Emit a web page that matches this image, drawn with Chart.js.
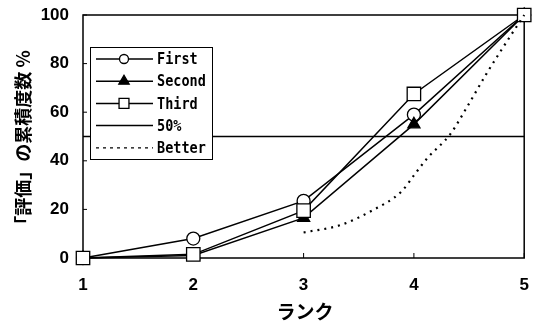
<!DOCTYPE html>
<html>
<head>
<meta charset="utf-8">
<script src="https://cdn.jsdelivr.net/npm/chart.js@4.4.0/dist/chart.umd.min.js"></script>
<style>
  html, body { margin: 0; padding: 0; background: #fff; }
  #wrap { width: 535px; height: 325px; }
</style>
</head>
<body>
<div id="wrap"><canvas id="myChart" width="535" height="325"></canvas></div>
<script>
// data
const ranks = [1, 2, 3, 4, 5];
const firstValues = [0, 8, 23.5, 59, 100];
const secondValues = [0, 1, 16.5, 55, 100];
const thirdValues = [0, 1.5, 19.5, 67.5, 100];
const halfValues = [50, 50];
const halfX = [1, 5];
const betterX = [3, 3.33, 3.62, 3.89, 4, 4.12, 4.33, 4.48, 4.66, 4.87, 5];
const betterY = [10.5, 13.5, 19.5, 27.5, 34, 41, 51, 62, 76, 91, 100];
const yTicks = [0, 20, 40, 60, 80, 100];

const yTitle = '「評価」の累積度数 %';
const xTitle = 'ランク';

function pts(xs, ys) {
  return xs.map((x, i) => ({x: x, y: ys[i]}));
}

const legendItems = [
  {label: 'First', style: 'circle', dash: []},
  {label: 'Second', style: 'triangle', dash: []},
  {label: 'Third', style: 'rect', dash: []},
  {label: '50%', style: null, dash: []},
  {label: 'Better', style: null, dash: [3, 4]}
];

// frame, inward ticks, titles and the legend box
const decor = {
  id: 'decor',
  beforeDatasetsDraw(chart) {
    const ctx = chart.ctx;
    const a = chart.chartArea;
    const xs = chart.scales.x, ys = chart.scales.y;
    ctx.save();
    ctx.strokeStyle = '#000';
    ctx.lineWidth = 1.5;
    ctx.strokeRect(a.left, a.top, a.right - a.left, a.bottom - a.top);
    ctx.lineWidth = 1;
    ranks.forEach(r => {
      const px = xs.getPixelForValue(r);
      ctx.beginPath();
      ctx.moveTo(px, a.bottom);
      ctx.lineTo(px, a.bottom - 5);
      ctx.stroke();
    });
    yTicks.forEach(v => {
      const py = ys.getPixelForValue(v);
      ctx.beginPath();
      ctx.moveTo(a.left, py);
      ctx.lineTo(a.left + 4, py);
      ctx.stroke();
    });
    ctx.fillStyle = '#000';
    ctx.font = 'bold 19px "Noto Sans CJK JP"';
    ctx.textAlign = 'center';
    ctx.textBaseline = 'middle';
    ctx.fillText(xTitle, 305, 312);
    ctx.translate(23, 142);
    ctx.rotate(-Math.PI / 2);
    ctx.font = 'bold 18px "Noto Sans CJK JP"';
    ctx.fillText(yTitle, 0, 0);
    ctx.restore();
  },
  afterDatasetsDraw(chart) {
    const ctx = chart.ctx;
    const bx = 90, by = 47, bw = 122, bh = 112;
    ctx.save();
    ctx.fillStyle = '#fff';
    ctx.fillRect(bx, by, bw, bh);
    ctx.strokeStyle = '#000';
    ctx.lineWidth = 1;
    ctx.strokeRect(bx + 0.5, by + 0.5, bw, bh);
    legendItems.forEach((it, i) => {
      const y = 59 + i * 22.2;
      ctx.strokeStyle = '#000';
      ctx.lineWidth = it.dash.length ? 1.3 : 1.5;
      ctx.setLineDash(it.dash);
      ctx.beginPath();
      ctx.moveTo(96, y);
      ctx.lineTo(153, y);
      ctx.stroke();
      ctx.setLineDash([]);
      if (it.style) {
        const filled = it.style === 'triangle';
        const opts = {
          pointStyle: it.style,
          radius: it.style === 'rect' ? 7 : (filled ? 6 : 4.5),
          rotation: 0,
          borderWidth: 1.3
        };
        ctx.fillStyle = filled ? '#000' : '#fff';
        ctx.strokeStyle = '#000';
        ctx.lineWidth = 1.3;
        Chart.helpers.drawPoint(ctx, opts, 124, y);
      }
      ctx.fillStyle = '#000';
      ctx.textAlign = 'left';
      ctx.textBaseline = 'middle';
      ctx.font = 'bold 15px "DejaVu Sans Mono"';
      ctx.save();
      ctx.translate(157, y + 1);
      ctx.scale(0.9, 1.1);
      ctx.fillText(it.label, 0, 0);
      ctx.restore();
    });
    ctx.restore();
  }
};

const lineBase = {
  borderColor: '#000',
  borderWidth: 1.5,
  pointBorderColor: '#000',
  pointBorderWidth: 1.3,
  tension: 0,
  clip: false
};

const tickFont = {family: 'Liberation Sans', size: 17, weight: 'bold'};

new Chart('myChart', {
  type: 'line',
  data: {
    datasets: [
      Object.assign({}, lineBase, {
        label: '50%', data: pts(halfX, halfValues), pointRadius: 0, borderWidth: 1.3
      }),
      Object.assign({}, lineBase, {
        label: 'Better', data: pts(betterX, betterY), pointRadius: 0,
        borderDash: [2, 5], borderWidth: 2.2, cubicInterpolationMode: 'monotone'
      }),
      Object.assign({}, lineBase, {
        label: 'Third', data: pts(ranks, thirdValues),
        pointStyle: 'rect', pointRadius: 9.5, pointBackgroundColor: '#fff'
      }),
      Object.assign({}, lineBase, {
        label: 'Second', data: pts(ranks, secondValues),
        pointStyle: 'triangle', pointRadius: 7, pointBackgroundColor: '#000'
      }),
      Object.assign({}, lineBase, {
        label: 'First', data: pts(ranks, firstValues),
        pointStyle: 'circle', pointRadius: 6.5, pointBackgroundColor: '#fff'
      })
    ]
  },
  options: {
    responsive: false,
    animation: false,
    layout: {padding: {top: 15, right: 2, left: 0, bottom: 0}},
    plugins: {
      legend: {display: false},
      tooltip: {enabled: false}
    },
    scales: {
      x: {
        type: 'linear', min: 1, max: 5,
        afterFit(scale) {
          scale.height = 67;
          scale.paddingLeft = 0;
          scale.paddingRight = 0;
        },
        grid: {display: false, drawTicks: false},
        border: {display: false},
        ticks: {stepSize: 1, padding: 17, color: '#000', font: tickFont}
      },
      y: {
        min: 0, max: 100,
        afterFit(scale) {
          scale.width = 83;
          scale.paddingTop = 0;
          scale.paddingBottom = 0;
        },
        afterBuildTicks(scale) { scale.ticks = yTicks.map(v => ({value: v})); },
        grid: {display: false, drawTicks: false},
        border: {display: false},
        ticks: {padding: 14, color: '#000', font: tickFont}
      }
    }
  },
  plugins: [decor]
});
</script>
</body>
</html>
